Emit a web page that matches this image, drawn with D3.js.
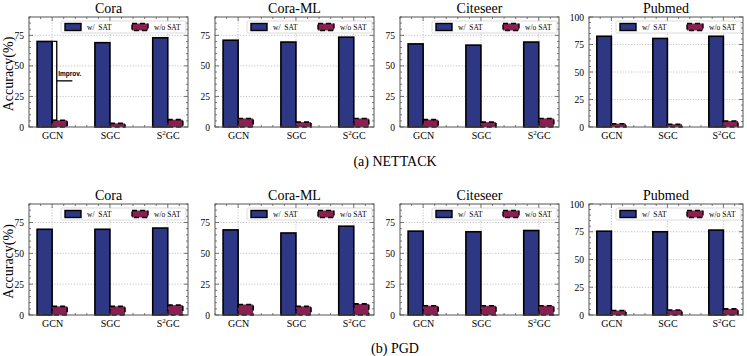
<!DOCTYPE html>
<html>
<head>
<meta charset="utf-8">
<script src="https://cdn.jsdelivr.net/npm/d3@7"></script>
<style>
  body { margin: 0; background: #fff; }
  svg text { font-family: "Liberation Serif", "Times New Roman", serif; fill: #000; }
  .grid line { stroke: #aaa; stroke-width: 0.7; stroke-dasharray: 1.2,1.6; }
  .legend text { white-space: pre; }
</style>
</head>
<body>
<div id="chart"></div>
<script>
const datasets = ["Cora", "Cora-ML", "Citeseer", "Pubmed"];
const models = ["GCN", "SGC", "S2GC"];
const seriesNames = ["w/  SAT", "w/o SAT"];

// accuracy (%), one row per dataset, columns follow models
const nettackWithSat = [[70, 69, 73], [71, 69.5, 73.5], [68, 67, 69.5], [82.5, 80.5, 82.5]];
const nettackWithoutSat = [[5.5, 3, 6], [7, 4, 7], [6, 4, 7], [3, 2.5, 5.5]];
const pgdWithSat = [[69.5, 69.5, 70.5], [69, 66.5, 72], [68, 67.5, 68.5], [75.5, 75, 76.5]];
const pgdWithoutSat = [[7, 7, 8], [8.5, 7, 9], [7.5, 7.5, 7.5], [4, 4.5, 5.5]];

const yMax = [90, 90, 90, 100];
const yTicks = [[0, 25, 50, 75], [0, 25, 50, 75], [0, 25, 50, 75], [0, 25, 50, 75, 100]];
const captions = ["(a) NETTACK", "(b) PGD"];

const W = 747, H = 356;
const serif = "'Liberation Serif', 'Times New Roman', serif";
const panelLeft = [29, 215, 400, 589];
const panelWidth = [159, 159, 159, 154];
const rows = [{ top: 17, bottom: 127, caption: 166 }, { top: 204, bottom: 315, caption: 353 }];
const blue = "#2e3784", red = "#8b1f52";
const barW = 0.26;

const svg = d3.select("#chart").append("svg")
  .attr("width", W)
  .attr("height", H);

drawRow(0, nettackWithSat, nettackWithoutSat);
drawRow(1, pgdWithSat, pgdWithoutSat);

function drawRow(r, withSat, withoutSat) {
  const row = rows[r];
  datasets.forEach((name, i) => {
    drawPanel(r, i, withSat[i], withoutSat[i]);
  });

  svg.append("text")
    .attr("x", 395)
    .attr("y", row.caption)
    .attr("text-anchor", "middle")
    .style("font-family", serif)
    .style("font-size", "14px")
    .text(captions[r]);

  svg.append("text")
    .attr("transform", `translate(13, ${(row.top + row.bottom) / 2 + 2}) rotate(-90)`)
    .attr("text-anchor", "middle")
    .style("font-family", serif)
    .style("font-size", "14px")
    .text("Accuracy(%)");
}

function drawPanel(r, i, a, b) {
  const row = rows[r];
  const w = panelWidth[i], h = row.bottom - row.top;
  const g = svg.append("g").attr("transform", `translate(${panelLeft[i]}, ${row.top})`);

  const x = d3.scaleLinear().domain([-0.4, 2.35]).range([0, w]);
  const y = d3.scaleLinear().domain([0, yMax[i]]).range([h, 0]);

  // grid
  const grid = g.append("g").attr("class", "grid");
  grid.selectAll(".gy").data(yTicks[i].filter(t => t > 0 && t < yMax[i]))
    .enter().append("line")
      .attr("x1", 0).attr("x2", w)
      .attr("y1", d => y(d)).attr("y2", d => y(d));
  grid.selectAll(".gx").data(d3.range(models.length))
    .enter().append("line")
      .attr("x1", d => x(d)).attr("x2", d => x(d))
      .attr("y1", 0).attr("y2", h);

  // bars
  g.selectAll(".bar-a").data(a)
    .enter().append("rect")
      .attr("x", (d, k) => x(k - barW))
      .attr("y", d => y(d))
      .attr("width", x(barW) - x(0))
      .attr("height", d => h - y(d))
      .attr("fill", blue)
      .attr("stroke", "#000")
      .attr("stroke-width", 1.6);

  g.selectAll(".bar-b").data(b)
    .enter().append("rect")
      .attr("x", (d, k) => x(k))
      .attr("y", d => y(d))
      .attr("width", x(barW) - x(0))
      .attr("height", d => h - y(d))
      .attr("fill", red)
      .attr("stroke", "#000")
      .attr("stroke-width", 1.6)
      .attr("stroke-dasharray", "5,3");

  // improvement bracket (NETTACK, Cora, GCN)
  if (r === 0 && i === 0) {
    const bx = x(0.08), mid = y((a[0] + b[0]) / 2);
    const bracket = g.append("g").attr("stroke", "#000").attr("stroke-width", 1.3).attr("fill", "none");
    bracket.append("path")
      .attr("d", `M${x(0) + 1},${y(a[0])}H${bx}V${y(b[0])}H${x(0) + 1}`);
    bracket.append("line")
      .attr("x1", bx).attr("x2", x(0.35))
      .attr("y1", mid).attr("y2", mid);
    g.append("text")
      .attr("x", bx + 1.5)
      .attr("y", mid - 5)
      .style("font-family", "'Liberation Sans', Arial, sans-serif")
      .style("font-weight", "bold")
      .style("font-size", "6.5px")
      .style("fill", "#000")
      .text("Improv.");
  }

  // ticks (inward) on all sides
  const minorY = d3.range(0, yMax[i] + 0.01, 5).filter(t => t % 25 !== 0);
  const minorX = d3.range(-0.4, 2.36, 0.2).filter(t => Math.abs(t - Math.round(t)) > 0.01);
  const tk = g.append("g").attr("stroke", "#444").attr("stroke-width", 0.7);
  [0, w].forEach(px => {
    const dir = px === 0 ? 1 : -1;
    yTicks[i].forEach(t => tk.append("line").attr("x1", px).attr("x2", px + dir * 4).attr("y1", y(t)).attr("y2", y(t)));
    minorY.forEach(t => tk.append("line").attr("x1", px).attr("x2", px + dir * 2).attr("y1", y(t)).attr("y2", y(t)));
  });
  [h, 0].forEach(py => {
    const dir = py === h ? -1 : 1;
    d3.range(models.length).forEach(t => tk.append("line").attr("x1", x(t)).attr("x2", x(t)).attr("y1", py).attr("y2", py + dir * 4));
    minorX.forEach(t => tk.append("line").attr("x1", x(t)).attr("x2", x(t)).attr("y1", py).attr("y2", py + dir * 2));
  });

  // axes labels
  const yAxis = g.append("g")
    .call(d3.axisLeft(y).tickValues(yTicks[i]).tickSize(0).tickPadding(5));
  yAxis.attr("font-family", null).attr("font-size", null);
  yAxis.select(".domain").remove();
  yAxis.selectAll("text").style("font-family", serif).style("font-size", "9.5px");

  const xAxis = g.append("g")
    .attr("transform", `translate(0, ${h})`)
    .call(d3.axisBottom(x).tickValues(d3.range(models.length)).tickSize(0).tickFormat(""));
  xAxis.attr("font-family", null).attr("font-size", null);
  xAxis.select(".domain").remove();
  xAxis.selectAll(".tick text").remove();
  xAxis.selectAll(".tick").append("text")
    .attr("y", 12)
    .attr("text-anchor", "middle")
    .style("font-family", serif)
    .style("font-size", "10px")
    .each(function(d) {
      const t = d3.select(this);
      const m = models[d];
      if (m === "S2GC") {
        t.append("tspan").text("S");
        t.append("tspan").attr("dy", -4).style("font-size", "7px").text("2");
        t.append("tspan").attr("dy", 4).text("GC");
      } else {
        t.text(m);
      }
    });

  // frame
  g.append("rect")
    .attr("width", w).attr("height", h)
    .attr("fill", "none")
    .attr("stroke", "#555")
    .attr("stroke-width", 1);

  // title
  g.append("text")
    .attr("x", w / 2)
    .attr("y", -4)
    .attr("text-anchor", "middle")
    .style("font-family", serif)
    .style("font-size", "14px")
    .text(datasets[i]);

  // legend
  const lg = g.append("g").attr("class", "legend").attr("transform", `translate(${w - 127}, 4)`);
  lg.append("rect")
    .attr("width", 125).attr("height", 12)
    .attr("rx", 1.5)
    .attr("fill", "#fff").attr("fill-opacity", 0.85)
    .attr("stroke", "#ccc").attr("stroke-width", 0.7);
  const items = lg.selectAll(".item").data(seriesNames)
    .enter().append("g")
      .attr("transform", (d, k) => `translate(${4 + k * 67}, 0)`);
  items.append("rect")
    .attr("x", 0).attr("y", 2.5)
    .attr("width", 16).attr("height", 7)
    .attr("fill", (d, k) => k === 0 ? blue : red)
    .attr("stroke", "#000")
    .attr("stroke-width", 1.4)
    .attr("stroke-dasharray", (d, k) => k === 0 ? null : "5,3");
  items.append("text")
    .attr("x", 22)
    .attr("y", 9)
    .style("font-family", serif)
    .style("font-size", "7.5px")
    .text(d => d);
}
</script>
</body>
</html>
